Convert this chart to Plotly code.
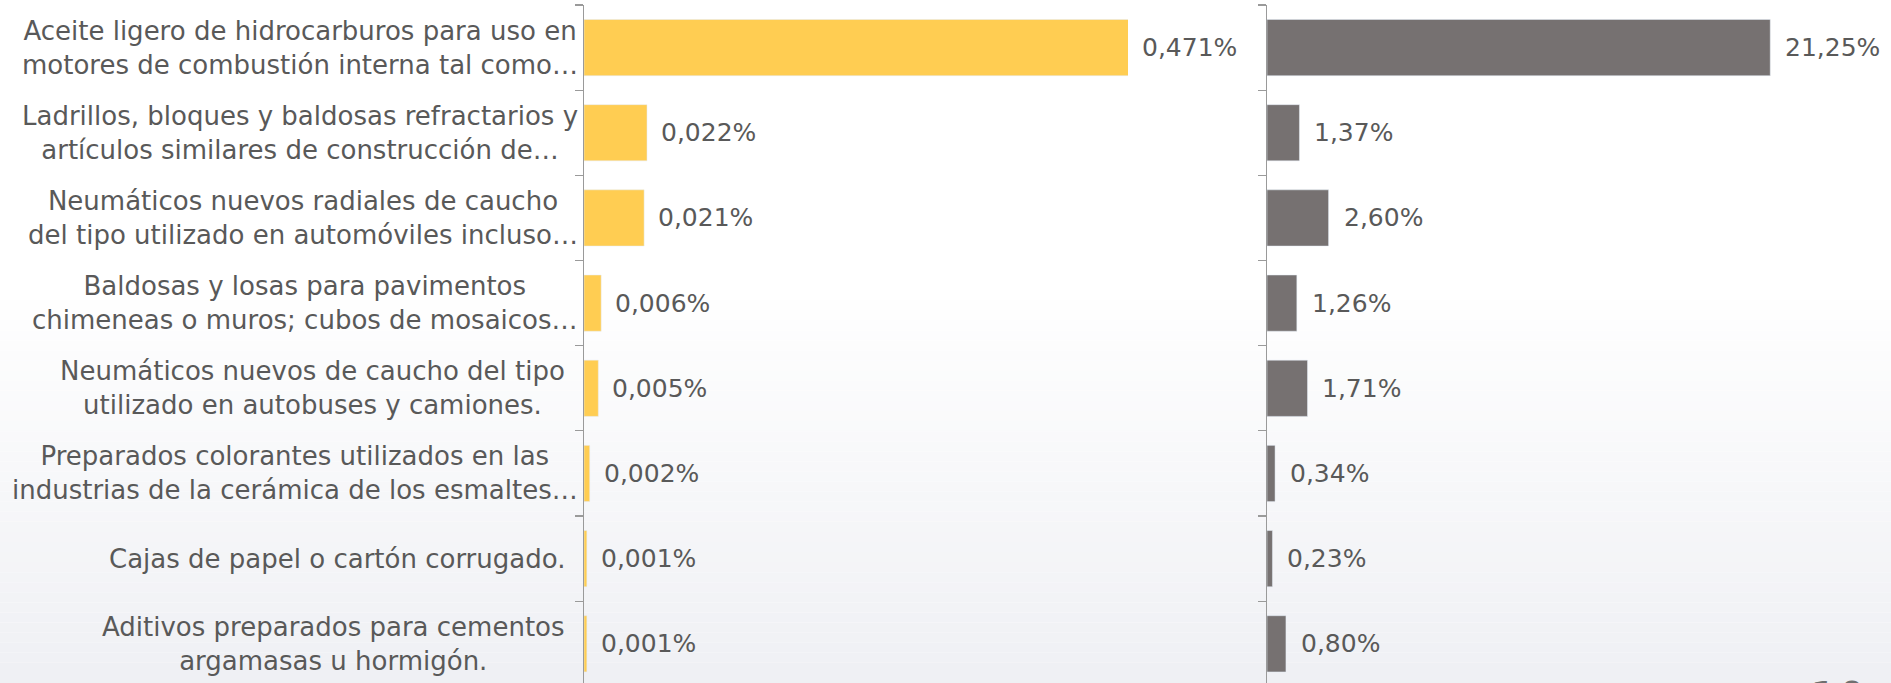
import plotly.graph_objects as go

# ---------------- data ----------------
categories = [
    "Aceite ligero de hidrocarburos para uso en<br>motores de combustión interna tal como…",
    "Ladrillos, bloques y baldosas refractarios y<br>artículos similares de construcción de…",
    "Neumáticos nuevos radiales de caucho<br>del tipo utilizado en automóviles incluso…",
    "Baldosas y losas para pavimentos<br>chimeneas o muros; cubos de mosaicos…",
    "Neumáticos nuevos de caucho del tipo<br>utilizado en autobuses y camiones.",
    "Preparados colorantes utilizados en las<br>industrias de la cerámica de los esmaltes…",
    "Cajas de papel o cartón corrugado.",
    "Aditivos preparados para cementos<br>argamasas u hormigón.",
]
left_values = [0.471, 0.022, 0.021, 0.006, 0.005, 0.002, 0.001, 0.001]
right_values = [21.25, 1.37, 2.60, 1.26, 1.71, 0.34, 0.23, 0.80]
left_decimals = 3
right_decimals = 2
left_max = 0.19
right_max = 22
page_number = "10"

# ---------------- styling ----------------
W, H = 1891, 683
YELLOW = "#FFCD52"
GRAY = "#767171"
TEXT = "#595959"
AXIS = "#9A9A9A"
FONT = "DejaVu Sans"

ids = list(range(len(categories)))


def fmt(v, d):
    return f"{v:.{d}f}".replace(".", ",") + "%"


fig = go.Figure()
fig.add_trace(go.Bar(y=ids, x=left_values, orientation="h", marker_color=YELLOW,
                     xaxis="x", yaxis="y", hoverinfo="skip", showlegend=False))
fig.add_trace(go.Bar(y=ids, x=right_values, orientation="h", marker_color=GRAY,
                     xaxis="x2", yaxis="y2", hoverinfo="skip", showlegend=False))

annotations = []
for i, cat in enumerate(categories):
    annotations.append(dict(
        xref="x domain", yref="y", x=0, y=i, xanchor="right", yanchor="middle",
        xshift=-4 if cat.endswith("…") else -17, text=cat, align="center",
        showarrow=False, font=dict(family=FONT, size=26, color=TEXT)))
for i, v in enumerate(left_values):
    annotations.append(dict(
        xref="x domain", yref="y", x=min(v / left_max, 1), y=i, xanchor="left",
        yanchor="middle", xshift=12, text=fmt(v, left_decimals), showarrow=False,
        font=dict(family=FONT, size=25, color=TEXT)))
for i, v in enumerate(right_values):
    annotations.append(dict(
        xref="x2 domain", yref="y2", x=min(v / right_max, 1), y=i, xanchor="left",
        yanchor="middle", xshift=13, text=fmt(v, right_decimals), showarrow=False,
        font=dict(family=FONT, size=25, color=TEXT)))
annotations.append(dict(
    xref="paper", yref="paper", x=1808 / W, y=0, xanchor="left", yanchor="top",
    yshift=12, text=page_number, showarrow=False,
    font=dict(family=FONT, size=44, color="#6F6F6F")))

# subtle background gradient (white top -> light grey bottom)
shapes = []
n_bands = 40
top_px, bot_px = 280, H
plot_h = H - 5
for k in range(n_bands):
    t = k / (n_bands - 1)
    y0px = top_px + (bot_px - top_px) * k / n_bands
    y1px = top_px + (bot_px - top_px) * (k + 1) / n_bands
    r = int(round(255 - 16 * t))
    g = int(round(255 - 15 * t))
    b = int(round(255 - 11 * t))
    shapes.append(dict(type="rect", xref="paper", yref="paper", x0=-0.02, x1=1.02,
                       y0=(H - y1px) / plot_h, y1=(H - y0px) / plot_h,
                       fillcolor=f"rgb({r},{g},{b})", line_width=0, layer="below"))

yaxis_common = dict(
    type="linear", range=[len(categories) - 0.54, -0.5], showgrid=False, zeroline=False,
    showticklabels=False, showline=True, linecolor=AXIS, linewidth=1.2,
    ticks="outside", ticklen=8, tickcolor=AXIS, tickwidth=1.2,
    tickmode="array", tickvals=[i - 0.5 for i in range(len(categories) + 1)],
)

fig.update_layout(
    width=W, height=H,
    margin=dict(l=0, r=0, t=5, b=0, pad=0, autoexpand=False),
    paper_bgcolor="white", plot_bgcolor="rgba(0,0,0,0)",
    bargap=0.34,
    xaxis=dict(domain=[584 / W, 1128 / W], range=[0, left_max], visible=False),
    xaxis2=dict(domain=[1267 / W, 1788 / W], range=[0, right_max], visible=False, anchor="y2"),
    yaxis=dict(**yaxis_common, anchor="x"),
    yaxis2=dict(**yaxis_common, anchor="x2"),
    annotations=annotations,
    shapes=shapes,
    font=dict(family=FONT, color=TEXT),
    hovermode=False,
)

fig.write_html(
    "out.html",
    config={"displayModeBar": False, "staticPlot": True},
    post_script="document.body.style.margin='0px';document.body.style.overflow='hidden';",
)
